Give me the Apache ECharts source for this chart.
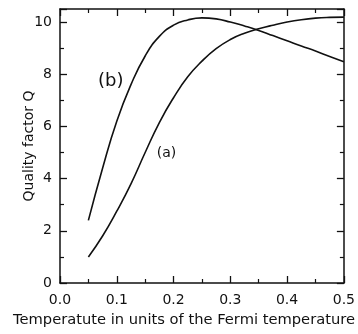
<!DOCTYPE html>
<html><head><meta charset="utf-8">
<script src="https://cdn.jsdelivr.net/npm/echarts@6/dist/echarts.min.js"></script>
<style>html,body{margin:0;padding:0;background:#fff}#c{width:358px;height:334px}</style>
</head><body><div id="c"></div>
<script>
const temps = [0.05,0.075,0.1,0.125,0.15,0.175,0.2,0.225,0.25,0.275,0.3,0.325,0.35,0.375,0.4,0.425,0.45,0.475,0.5];
const seriesA = [1.0,1.8,2.75,3.8,5.0,6.15,7.1,7.9,8.5,8.98,9.33,9.57,9.74,9.88,10.0,10.09,10.15,10.18,10.19];
const seriesB = [2.4,4.4,6.2,7.6,8.7,9.45,9.88,10.08,10.16,10.12,10.0,9.85,9.68,9.48,9.28,9.08,8.89,8.68,8.48];
const xTicks = [0,0.1,0.2,0.3,0.4,0.5];
const yTicks = [0,2,4,6,8,10];
const labelA = '(a)', labelB = '(b)';
const xName = 'Temperatute in units of the Fermi temperature';
const yName = 'Quality factor Q';

const font = 'DejaVu Sans, sans-serif';
const chart = echarts.init(document.getElementById('c'));
const axBase = {
  axisLine:{show:true,onZero:false,lineStyle:{color:'#111',width:1.5}},
  axisTick:{show:true,inside:true,length:7,lineStyle:{color:'#111',width:1.3}},
  minorTick:{show:true,splitNumber:2,length:4,lineStyle:{color:'#111',width:1.2}},
  splitLine:{show:false}
};
chart.setOption({
  animation:false,
  grid:{left:60,right:13,top:9,bottom:51},
  graphic:[{type:'text',left:13,top:313,style:{text:xName,font:'14.7px DejaVu Sans, sans-serif',fill:'#111'}}],
  xAxis:[
    Object.assign({type:'value',position:'bottom',min:0,max:0.5,interval:0.1,
      axisLabel:{fontFamily:font,fontSize:14,color:'#111',margin:10,formatter:v=>v.toFixed(1)}},axBase),
    Object.assign({type:'value',position:'top',min:0,max:0.5,interval:0.1,axisLabel:{show:false}},axBase)
  ],
  yAxis:[
    Object.assign({type:'value',position:'left',min:0,max:10.5,interval:2,
      name:yName,nameLocation:'middle',nameGap:24,nameMoveOverlap:false,
      nameTextStyle:{fontFamily:font,fontSize:14,color:'#111'},
      axisLabel:{fontFamily:font,fontSize:14,color:'#111',margin:8,showMaxLabel:false}},axBase),
    Object.assign({type:'value',position:'right',min:0,max:10.5,interval:2,axisLabel:{show:false}},axBase)
  ],
  series:[
    {type:'line',data:temps.map((t,i)=>[t,seriesA[i]]),smooth:true,symbol:'none',
     lineStyle:{color:'#111',width:1.6},
     markPoint:{symbol:'rect',symbolSize:1,itemStyle:{color:'transparent'},
       label:{show:true,formatter:labelA,fontFamily:font,fontSize:14,color:'#111'},
       data:[{coord:[0.1877,4.98]}]}},
    {type:'line',data:temps.map((t,i)=>[t,seriesB[i]]),smooth:true,symbol:'none',
     lineStyle:{color:'#111',width:1.6},
     markPoint:{symbol:'rect',symbolSize:1,itemStyle:{color:'transparent'},
       label:{show:true,formatter:labelB,fontFamily:font,fontSize:18,color:'#111'},
       data:[{coord:[0.0895,7.74]}]}}
  ]
});
</script></body></html>
